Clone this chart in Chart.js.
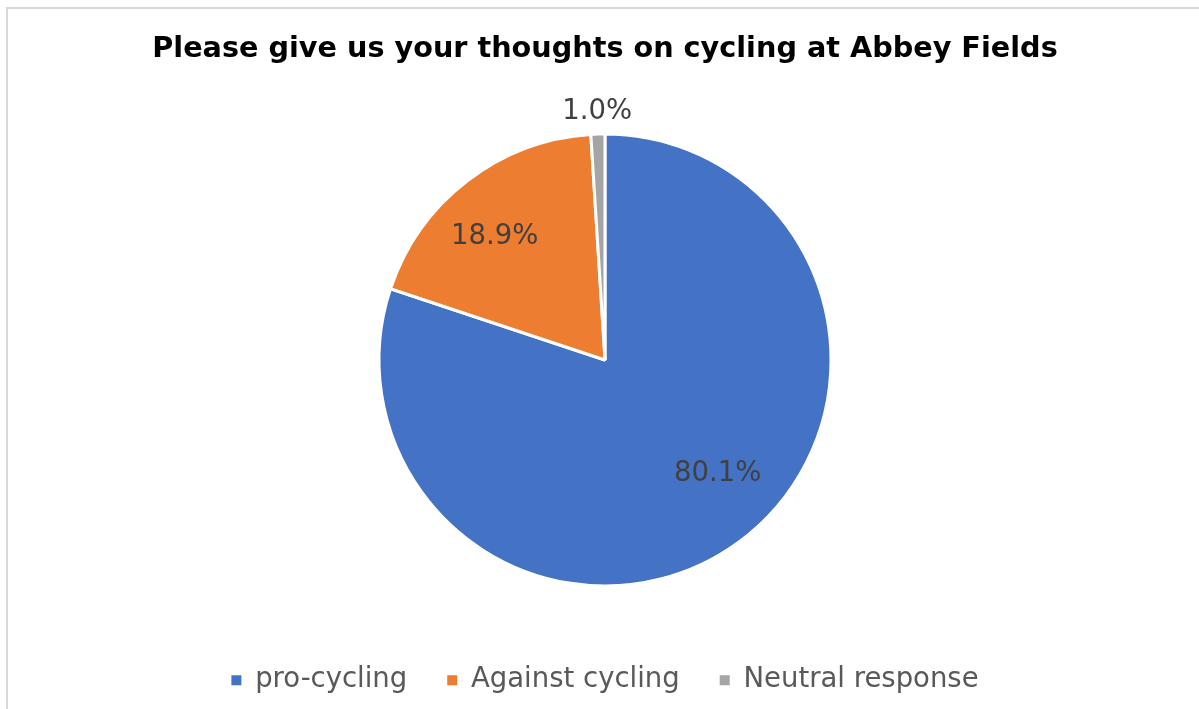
<!DOCTYPE html>
<html>
<head>
<meta charset="utf-8">
<script src="https://cdn.jsdelivr.net/npm/chart.js@4"></script>
<style>
    html, body { margin: 0; padding: 0; background: #fff; overflow: hidden; }
    body { width: 1199px; height: 709px; position: relative; }
    #frame {
        position: absolute; left: 6px; top: 7px; width: 1191px; height: 702px;
        border-top: 2px solid #d9d9d9; border-left: 2px solid #d9d9d9;
    }
    #wrap { position: absolute; left: 7px; top: 8px; width: 1192px; height: 701px; }
</style>
</head>
<body>
<div id="frame"></div>
<div id="wrap"><canvas id="pie" width="1192" height="701"></canvas></div>
<script>
const categories = ['pro-cycling', 'Against cycling', 'Neutral response'];
const shares = [80.1, 18.9, 1.0];
const colours = ['#4472C4', '#ED7D31', '#A5A5A5'];

// where Excel put each data label: fraction of radius and angle nudge (degrees)
const labelSpots = [
    { frac: 0.71, turn: -8.8 },
    { frac: 0.73, turn: -4.3 },
    { frac: 1.10, turn: 0 }
];

const pieLabels = {
    id: 'pieLabels',
    afterDatasetsDraw(chart) {
        const ctx = chart.ctx;
        const meta = chart.getDatasetMeta(0);
        ctx.save();
        ctx.font = '27.5px "DejaVu Sans"';
        ctx.fillStyle = '#404040';
        ctx.textAlign = 'center';
        ctx.textBaseline = 'middle';
        meta.data.forEach((arc, i) => {
            const spot = labelSpots[i];
            const mid = (arc.startAngle + arc.endAngle) / 2 + spot.turn * Math.PI / 180;
            const r = arc.outerRadius * spot.frac;
            ctx.fillText(shares[i].toFixed(1) + '%', arc.x + Math.cos(mid) * r, arc.y + Math.sin(mid) * r);
        });
        ctx.restore();
    }
};

window.addEventListener('load', function() {
    const ctx = document.getElementById('pie').getContext('2d');
    new Chart(ctx, {
        type: 'pie',
        data: {
            labels: categories,
            datasets: [{
                data: shares,
                backgroundColor: colours,
                borderColor: '#fff',
                borderWidth: 3
            }]
        },
        options: {
            responsive: false,
            animation: false,
            radius: 226,
            layout: { padding: { left: 4, bottom: 5 } },
            plugins: {
                title: {
                    display: true,
                    text: 'Please give us your thoughts on cycling at Abbey Fields',
                    color: '#000',
                    font: { family: '"DejaVu Sans"', size: 28.7, weight: 'bold', lineHeight: 1.2 },
                    padding: { top: 24, bottom: 27 }
                },
                legend: {
                    position: 'bottom',
                    labels: {
                        color: '#595959',
                        font: { family: '"DejaVu Sans"', size: 27.5 },
                        boxWidth: 10,
                        boxHeight: 10,
                        padding: 40,
                        generateLabels(chart) {
                            return categories.map((name, i) => ({
                                text: name,
                                fillStyle: colours[i],
                                strokeStyle: colours[i],
                                lineWidth: 0,
                                fontColor: '#595959',
                                hidden: false,
                                index: i
                            }));
                        }
                    }
                },
                tooltip: { enabled: false }
            }
        },
        plugins: [pieLabels]
    });
});
</script>
</body>
</html>
